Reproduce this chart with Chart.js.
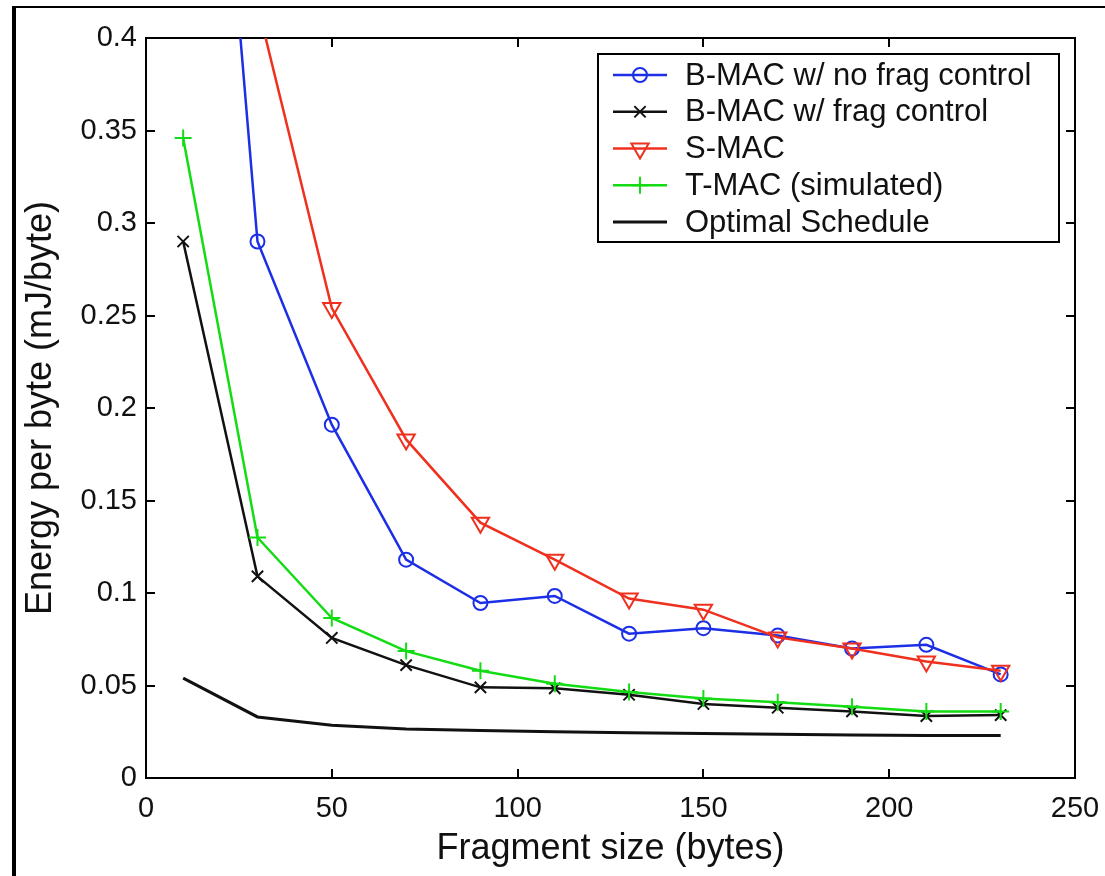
<!DOCTYPE html>
<html>
<head>
<meta charset="utf-8">
<title>Energy per byte vs fragment size</title>
<script src="https://cdn.jsdelivr.net/npm/chart.js@4.4.1/dist/chart.umd.min.js"></script>
<style>
  html, body { margin: 0; padding: 0; background: #fff; }
  #wrap { position: relative; width: 1105px; height: 876px; }
  #frame { position: absolute; left: 12px; top: 6px; right: 0; bottom: 0; border-left: 4px solid #000; border-top: 2px solid #000; pointer-events: none; }
</style>
</head>
<body>
<div id="wrap">
  <canvas id="energyChart"></canvas>
  <div id="frame"></div>
</div>
<script>
// values
const fragSizes = [10, 30, 50, 70, 90, 110, 130, 150, 170, 190, 210, 230];
const bmacNoFrag = [0.77, 0.290, 0.191, 0.118, 0.0946, 0.0984, 0.078, 0.081, 0.077, 0.070, 0.072, 0.056];
const bmacFrag = [0.290, 0.109, 0.0757, 0.061, 0.049, 0.0485, 0.045, 0.040, 0.038, 0.036, 0.0335, 0.034];
const smac = [0.62, 0.418, 0.254, 0.183, 0.138, 0.118, 0.097, 0.091, 0.076, 0.070, 0.063, 0.058];
const tmac = [0.346, 0.130, 0.0865, 0.0686, 0.058, 0.051, 0.0465, 0.043, 0.041, 0.0385, 0.036, 0.036];
const optimal = [0.054, 0.033, 0.0285, 0.0265, 0.0257, 0.025, 0.0245, 0.024, 0.0236, 0.0233, 0.023, 0.023];
const xTicks = [0, 50, 100, 150, 200, 250];
const yTicks = [0, 0.05, 0.1, 0.15, 0.2, 0.25, 0.3, 0.35, 0.4];

const FONT = "'Liberation Sans', Arial, Helvetica, sans-serif";

function series(label, values, color, style, radius, rotation, order, width) {
    return {
        label: label,
        data: values.map((v, i) => ({ x: fragSizes[i], y: v })),
        borderColor: color,
        backgroundColor: 'rgba(0,0,0,0)',
        borderWidth: width || 2.5,
        pointStyle: style,
        pointRadius: radius,
        pointRotation: rotation,
        pointBorderColor: color,
        pointBackgroundColor: 'rgba(0,0,0,0)',
        pointBorderWidth: 2,
        tension: 0,
        order: order,
    };
}

// box legend in the top right corner, like the original
const boxLegend = {
    id: 'boxLegend',
    afterDraw(chart) {
        const { ctx, chartArea } = chart;
        const right = chartArea.right - 16;
        const top = chartArea.top + 16;
        const left = right - 461;
        const height = 188;
        ctx.save();
        ctx.fillStyle = '#fff';
        ctx.fillRect(left, top, right - left, height);
        ctx.strokeStyle = '#000';
        ctx.lineWidth = 2;
        ctx.strokeRect(left, top, right - left, height);
        chart.data.datasets.forEach((ds, i) => {
            const y = top + 21 + i * 36.75;
            ctx.strokeStyle = ds.borderColor;
            ctx.lineWidth = ds.borderWidth;
            ctx.beginPath();
            ctx.moveTo(left + 15, y);
            ctx.lineTo(left + 69, y);
            ctx.stroke();
            if (ds.pointRadius > 0) {
                ctx.fillStyle = 'rgba(0,0,0,0)';
                ctx.lineWidth = ds.pointBorderWidth;
                Chart.helpers.drawPoint(ctx, {
                    pointStyle: ds.pointStyle,
                    radius: ds.pointRadius,
                    rotation: ds.pointRotation,
                    borderWidth: ds.pointBorderWidth,
                }, left + 42, y);
            }
            ctx.fillStyle = '#111';
            ctx.font = '31px ' + FONT;
            ctx.textAlign = 'left';
            ctx.textBaseline = 'middle';
            ctx.fillText(ds.label, left + 87, y + 1);
        });
        ctx.restore();
    },
};

const tickFont = { family: FONT, size: 29 };
const titleFont = { family: FONT, size: 36 };
const innerTicks = { drawOnChartArea: false, drawTicks: true, tickLength: -9, color: '#000', lineWidth: 2 };
const axisBorder = { display: true, color: '#000', width: 2 };

const canvas = document.querySelector('#energyChart');
const energyChart = new Chart(canvas, {
    type: 'line',
    data: {
        datasets: [
            series('B-MAC w/ no frag control', bmacNoFrag, '#1c2fe6', 'circle', 7, 0, 2),
            series('B-MAC w/ frag control', bmacFrag, '#111111', 'crossRot', 8, 0, 3),
            series('S-MAC', smac, '#f0301e', 'triangle', 10, 180, 0),
            series('T-MAC (simulated)', tmac, '#14dc14', 'cross', 8.5, 0, 1),
            series('Optimal Schedule', optimal, '#111111', 'circle', 0, 0, 4, 3),
        ],
    },
    options: {
        responsive: true,
        maintainAspectRatio: false,
        animation: false,
        layout: { padding: { left: 0, right: 30, top: 38, bottom: 0 } },
        plugins: {
            legend: { display: false },
            tooltip: { enabled: false },
        },
        scales: {
            x: {
                type: 'linear',
                position: 'bottom',
                min: 0,
                max: 250,
                afterBuildTicks: (s) => { s.ticks = xTicks.map((v) => ({ value: v })); },
                afterFit: (s) => { s.height = 98; s.paddingLeft = 0; s.paddingRight = 0; },
                ticks: { font: tickFont, color: '#111', padding: 23, maxRotation: 0, autoSkip: false, callback: (v) => String(v) },
                grid: innerTicks,
                border: axisBorder,
                title: { display: true, text: 'Fragment size (bytes)', font: titleFont, color: '#111', padding: { top: 0, bottom: 5 } },
            },
            xTop: {
                type: 'linear',
                position: 'top',
                min: 0,
                max: 250,
                afterBuildTicks: (s) => { s.ticks = xTicks.map((v) => ({ value: v })); },
                afterFit: (s) => { s.height = 0; s.paddingLeft = 0; s.paddingRight = 0; },
                ticks: { display: false },
                grid: innerTicks,
                border: axisBorder,
            },
            y: {
                type: 'linear',
                position: 'left',
                min: 0,
                max: 0.4,
                afterBuildTicks: (s) => { s.ticks = yTicks.map((v) => ({ value: v })); },
                afterFit: (s) => { s.width = 146; s.paddingTop = 0; s.paddingBottom = 0; },
                ticks: { font: tickFont, color: '#111', padding: 18, callback: (v) => String(v) },
                grid: innerTicks,
                border: axisBorder,
                title: { display: true, text: 'Energy per byte (mJ/byte)', font: titleFont, color: '#111', padding: { top: 19, bottom: 0 } },
            },
            yRight: {
                type: 'linear',
                position: 'right',
                min: 0,
                max: 0.4,
                afterBuildTicks: (s) => { s.ticks = yTicks.map((v) => ({ value: v })); },
                afterFit: (s) => { s.width = 0; s.paddingTop = 0; s.paddingBottom = 0; },
                ticks: { display: false },
                grid: innerTicks,
                border: axisBorder,
            },
        },
    },
    plugins: [boxLegend],
});
</script>
</body>
</html>
